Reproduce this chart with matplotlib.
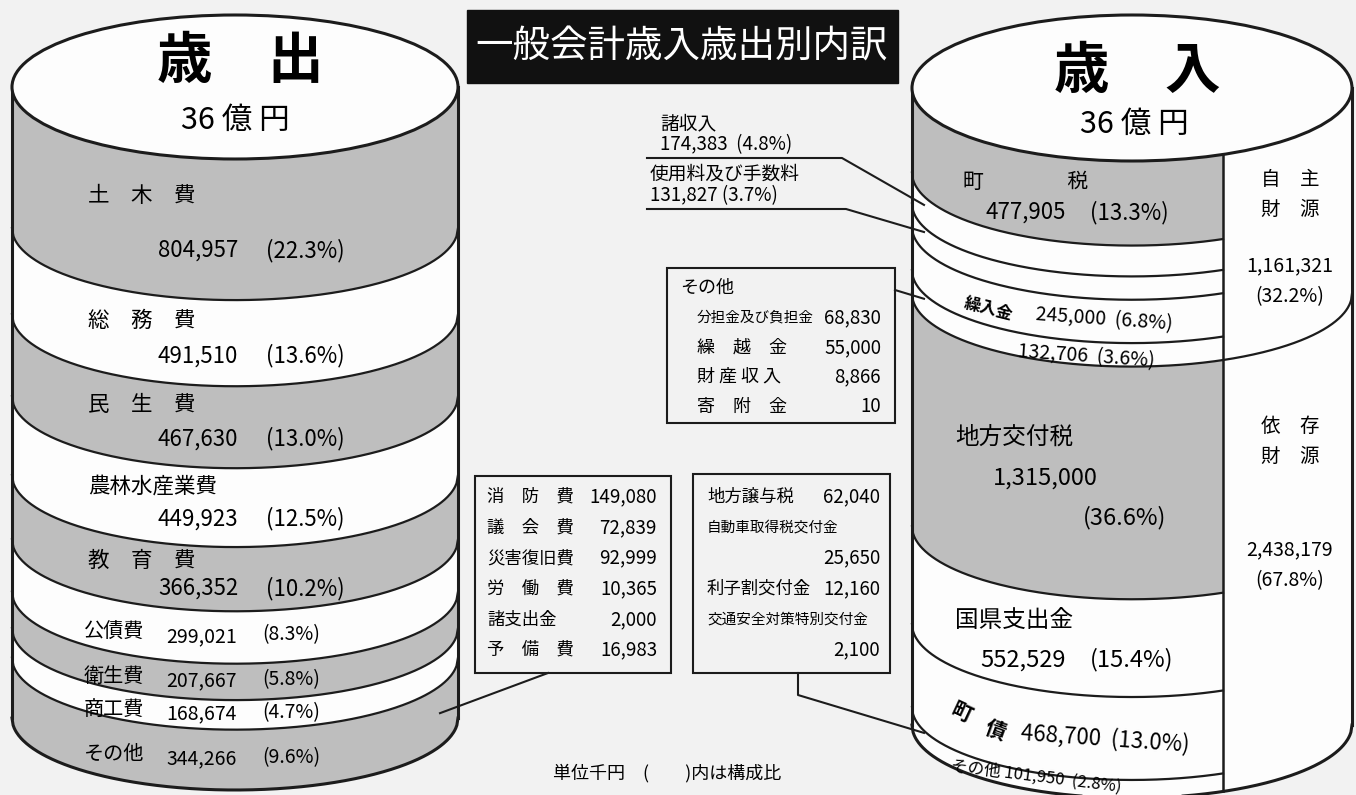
import numpy as np
import matplotlib.pyplot as plt
from matplotlib.patches import Ellipse, Rectangle

plt.rcParams['font.family'] = ['Noto Sans CJK JP', 'DejaVu Sans']

# 歳出 (単位千円)
out_labels = ['土　木　費', '総　務　費', '民　生　費', '農林水産業費', '教　育　費',
              '公債費', '衛生費', '商工費', 'その他']
out_values = [804957, 491510, 467630, 449923, 366352, 299021, 207667, 168674, 344266]
out_pcts = [22.3, 13.6, 13.0, 12.5, 10.2, 8.3, 5.8, 4.7, 9.6]
out_shaded = [True, False, True, False, True, False, True, False, True]

# 歳入 (単位千円)
in_labels = ['町税', '諸収入', '使用料及び手数料', '繰入金', 'その他',
             '地方交付税', '国県支出金', '町債', 'その他']
in_values = [477905, 174383, 131827, 245000, 132706, 1315000, 552529, 468700, 101950]
in_pcts = [13.3, 4.8, 3.7, 6.8, 3.6, 36.6, 15.4, 13.0, 2.8]
in_shaded = [True, False, False, False, False, True, False, False, False]

own_label, own_total, own_pct = '自　主\n財　源', '1,161,321', 32.2
dep_label, dep_total, dep_pct = '依　存\n財　源', '2,438,179', 67.8
n_own = 5  # 自主財源 = first five items

# 内訳
out_other_labels = ['消　防　費', '議　会　費', '災害復旧費', '労　働　費', '諸支出金', '予　備　費']
out_other_values = [149080, 72839, 92999, 10365, 2000, 16983]

in_other_labels = ['分担金及び負担金', '繰　越　金', '財 産 収 入', '寄　附　金']
in_other_values = [68830, 55000, 8866, 10]

grant_labels = ['地方譲与税', '自動車取得税交付金', '利子割交付金', '交通安全対策特別交付金']
grant_values = [62040, 25650, 12160, 2100]

GRAY = '#bebebe'
WHITE = '#fdfdfd'
BG = '#f2f2f2'
INK = '#1c1c1c'

fig = plt.figure(figsize=(13.56, 7.95), dpi=100, facecolor=BG)
ax = fig.add_axes([0, 0, 1, 1])
ax.set_xlim(0, 1356)
ax.set_ylim(795, 0)
ax.axis('off')


class Cylinder:
    def __init__(self, x0, x1, ytop, ybot, b, values):
        self.x0, self.x1 = x0, x1
        self.cx, self.a, self.b = (x0 + x1) / 2, (x1 - x0) / 2, b
        self.ytop, self.ybot = ytop, ybot
        frac = np.concatenate([[0], np.cumsum(values)]) / np.sum(values)
        self.levels = ytop + frac * (ybot - ytop)

    def arc(self, x):
        u = (np.asarray(x, float) - self.cx) / self.a
        return self.b * np.sqrt(np.clip(1 - u ** 2, 0, None))

    def y(self, i, x, t=0.5):
        return self.levels[i] + t * (self.levels[i + 1] - self.levels[i]) + self.arc(x)


def draw_cylinder(cyl, shaded, xcut=None, split=None):
    xe = cyl.x1 if xcut is None else xcut
    xs = np.linspace(cyl.x0, xe, 300)
    arc = cyl.arc(xs)
    for i, sh in enumerate(shaded):
        ax.fill_between(xs, cyl.levels[i] + arc, cyl.levels[i + 1] + arc,
                        color=GRAY if sh else WHITE, lw=0, zorder=1)
    for lev in cyl.levels[1:-1]:
        ax.plot(xs, lev + arc, color=INK, lw=1.6, zorder=3)
    if xcut is not None:
        xr = np.linspace(xcut, cyl.x1, 150)
        ar = cyl.arc(xr)
        ax.fill_between(xr, cyl.ytop + ar, cyl.ybot + ar, color=WHITE, lw=0, zorder=1)
        ax.plot(xr, cyl.levels[split] + ar, color=INK, lw=1.6, zorder=3)
        ac = cyl.arc(xcut)
        ax.plot([xcut, xcut], [cyl.ytop + ac, cyl.ybot + ac], color=INK, lw=1.8, zorder=3)
    xa = np.linspace(cyl.x0, cyl.x1, 400)
    ax.plot(xa, cyl.ybot + cyl.arc(xa), color=INK, lw=2.2, zorder=3)
    ax.plot([cyl.x0, cyl.x0], [cyl.ytop, cyl.ybot], color=INK, lw=2.2, zorder=3)
    ax.plot([cyl.x1, cyl.x1], [cyl.ytop, cyl.ybot], color=INK, lw=2.2, zorder=3)
    ax.add_patch(Ellipse((cyl.cx, cyl.ytop), 2 * cyl.a, 2 * cyl.b,
                         fc=WHITE, ec=INK, lw=2.2, zorder=4))


left = Cylinder(12, 458, 87, 718, 72, out_values)
right = Cylinder(912, 1352, 88, 725, 73, in_values)
draw_cylinder(left, out_shaded)
draw_cylinder(right, in_shaded, xcut=1223, split=n_own)

# ---- 歳出 ----
ax.text(240, 62, '歳　出', fontsize=40, fontweight='bold', ha='center', va='center', zorder=5)
ax.text(235, 120, '36 億 円', fontsize=22, ha='center', va='center', zorder=5)
for i, (lab, v, p) in enumerate(zip(out_labels, out_values, out_pcts)):
    if i < 5:
        ax.text(88, left.y(i, 150, 0.3), lab, fontsize=15.5, va='center', zorder=5)
        yv = left.y(i, 260, 0.65)
        ax.text(158, yv, f'{v:,}', fontsize=16, va='center', zorder=5)
        ax.text(266, yv, f'({p}%)', fontsize=16, va='center', zorder=5)
    else:
        ax.text(84, left.y(i, 150, 0.5), lab, fontsize=14.5, va='center', zorder=5)
        ax.text(166, left.y(i, 200, 0.5), f'{v:,}', fontsize=14, va='center', zorder=5)
        ax.text(262, left.y(i, 295, 0.5), f'({p}%)', fontsize=14, va='center', zorder=5)

# ---- 歳入 ----
ax.text(1137, 72, '歳　入', fontsize=40, fontweight='bold', ha='center', va='center', zorder=5)
ax.text(1134, 124, '36 億 円', fontsize=22, ha='center', va='center', zorder=5)

y0 = right.y(0, 1000, 0.42)
ax.text(963, y0, in_labels[0][0] + '　　　　' + in_labels[0][1], fontsize=15, va='center', zorder=5)
y0v = right.y(0, 1090, 0.62)
ax.text(985, y0v, f'{in_values[0]:,}', fontsize=16, va='center', zorder=5)
ax.text(1090, y0v, f'({in_pcts[0]}%)', fontsize=16, va='center', zorder=5)

ax.text(962, right.y(3, 985, 0.65), in_labels[3], fontsize=12, fontweight='bold', va='center',
        rotation=-14, zorder=5)
ax.text(1035, right.y(3, 1100, 0.47), f'{in_values[3]:,}  ({in_pcts[3]}%)', fontsize=14,
        va='center', rotation=-4, zorder=5)
ax.text(1017, right.y(4, 1100, 0.6), f'{in_values[4]:,}  ({in_pcts[4]}%)', fontsize=14,
        va='center', rotation=-4, zorder=5)

ax.text(955, right.y(5, 1015, 0.35), in_labels[5], fontsize=17, va='center', zorder=5)
ax.text(993, right.y(5, 1050, 0.5), f'{in_values[5]:,}', fontsize=17, va='center', zorder=5)
ax.text(1083, right.y(5, 1130, 0.65), f'({in_pcts[5]}%)', fontsize=17, va='center', zorder=5)

ax.text(955, right.y(6, 1015, 0.33), in_labels[6], fontsize=17, va='center', zorder=5)
y6 = right.y(6, 1080, 0.64)
ax.text(980, y6, f'{in_values[6]:,}', fontsize=17, va='center', zorder=5)
ax.text(1090, y6, f'({in_pcts[6]}%)', fontsize=17, va='center', zorder=5)

ax.text(948, right.y(7, 957, 0.53), in_labels[7][0], fontsize=15, fontweight='bold',
        va='center', rotation=-25, zorder=5)
ax.text(982, right.y(7, 990, 0.61), in_labels[7][1], fontsize=15, fontweight='bold',
        va='center', rotation=-20, zorder=5)
ax.text(1020, right.y(7, 1110, 0.5), f'{in_values[7]:,}  ({in_pcts[7]}%)', fontsize=16,
        va='center', rotation=-4, zorder=5)
ax.text(950, right.y(8, 1065, 0.1) - 2, f'{in_labels[8]} {in_values[8]:,}  ({in_pcts[8]}%)',
        fontsize=12, va='center', rotation=-7, zorder=5)

# 自主財源 / 依存財源
for lab, tot, pct, i, ts in [(own_label, own_total, own_pct, 0, (0.27, 0.62, 0.77)),
                             (dep_label, dep_total, dep_pct, 1, (0.225, 0.476, 0.548))]:
    lo, hi = (right.levels[0], right.levels[n_own]) if i == 0 else (right.levels[n_own], right.levels[-1])
    ar = right.arc(1290)
    yy = [lo + t * (hi - lo) + ar for t in ts]
    ax.text(1290, yy[0], lab, fontsize=14, ha='center', va='center', linespacing=1.6, zorder=5)
    ax.text(1290, yy[1], tot, fontsize=14, ha='center', va='center', zorder=5)
    ax.text(1290, yy[2], f'({pct}%)', fontsize=14, ha='center', va='center', zorder=5)

# ---- 表題 ----
ax.add_patch(Rectangle((467, 10), 431, 73, fc='#111111', ec='#111111', zorder=5))
ax.text(682, 47, '一般会計歳入歳出別内訳', fontsize=27, color='white',
        ha='center', va='center', zorder=6)

# ---- 引き出し (諸収入, 使用料及び手数料) ----
ax.text(660, 124, in_labels[1], fontsize=13.5, va='center', zorder=5)
ax.text(660, 145, f'{in_values[1]:,}  ({in_pcts[1]}%)', fontsize=13.5, va='center', zorder=5)
ax.plot([647, 842, 924], [158, 158, right.y(1, 918)], color=INK, lw=1.5, zorder=5)
ax.text(650, 174, in_labels[2], fontsize=13.5, va='center', zorder=5)
ax.text(650, 196, f'{in_values[2]:,} ({in_pcts[2]}%)', fontsize=13.5, va='center', zorder=5)
ax.plot([647, 846, 924], [209, 209, right.y(2, 918)], color=INK, lw=1.5, zorder=5)

# その他 (歳入) box
ax.add_patch(Rectangle((667, 268), 228, 155, fc='none', ec=INK, lw=1.5, zorder=5))
ax.text(680, 288, in_labels[4], fontsize=13, va='center', zorder=5)
for k, (lab, v) in enumerate(zip(in_other_labels, in_other_values)):
    yk = 318 + k * 29.5
    ax.text(697, yk, lab, fontsize=10.5 if k == 0 else 13, va='center', zorder=5)
    ax.text(881, yk, f'{v:,}', fontsize=13.5, ha='right', va='center', zorder=5)
ax.plot([895, 924], [290, right.y(4, 918)], color=INK, lw=1.5, zorder=5)

# その他 (歳出) box
ax.add_patch(Rectangle((475, 476), 196, 197, fc='none', ec=INK, lw=1.5, zorder=5))
for k, (lab, v) in enumerate(zip(out_other_labels, out_other_values)):
    yk = 497 + k * 30.6
    ax.text(487, yk, lab, fontsize=12.5, va='center', zorder=5)
    ax.text(657, yk, f'{v:,}', fontsize=13.5, ha='right', va='center', zorder=5)
ax.plot([548, 440], [673, left.y(8, 440, 0.45)], color=INK, lw=1.5, zorder=5)

# その他 (歳入, 交付金) box
ax.add_patch(Rectangle((693, 474), 197, 199, fc='none', ec=INK, lw=1.5, zorder=5))
rows = [(grant_labels[0], grant_values[0]), (grant_labels[1], None), (None, grant_values[1]),
        (grant_labels[2], grant_values[2]), (grant_labels[3], None), (None, grant_values[3])]
for k, (lab, v) in enumerate(rows):
    yk = 497 + k * 30.6
    if lab is not None:
        small = len(lab) > 6
        ax.text(707, yk, lab, fontsize=10.5 if small else 12.5, va='center', zorder=5)
    if v is not None:
        ax.text(880, yk, f'{v:,}', fontsize=13.5, ha='right', va='center', zorder=5)
ax.plot([798, 798, 924], [673, 695, right.y(8, 918)], color=INK, lw=1.5, zorder=5)

ax.text(667, 773, '単位千円　(　　)内は構成比', fontsize=13, ha='center', va='center', zorder=5)

fig.savefig('out.png', dpi=100, facecolor=BG)
